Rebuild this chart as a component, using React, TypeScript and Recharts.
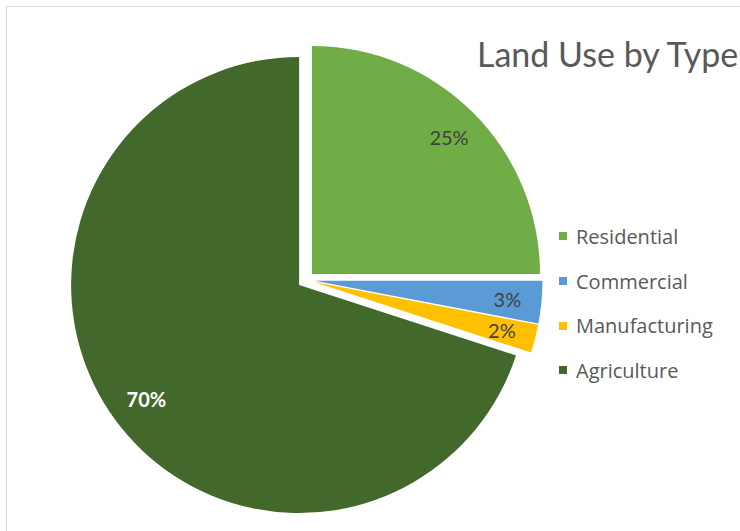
import { PieChart, Pie, Cell, Legend } from 'recharts'

const categories = ['Residential', 'Commercial', 'Manufacturing', 'Agriculture']
const shares = [25, 3, 2, 70]
const colors = ['#70AD47', '#5B9BD5', '#FFC000', '#43682B']
const labelColors = ['#404040', '#404040', '#404040', '#FFFFFF']
const labelWeights = [400, 400, 400, 700]

const data = categories.map((name, i) => ({ name, value: shares[i] }))

const FONT = 'Lato, "Open Sans", sans-serif'
const LEGEND_FONT = '"Open Sans", Lato, sans-serif'
const CX = 306
const CY = 280
const R = 228
const EXPLODE = 8.5
const RAD = Math.PI / 180

const total = shares.reduce((a, b) => a + b, 0)
// middle of each slice, clockwise degrees from 12 o'clock
const midAngles = shares.map((v, i) => {
  const before = shares.slice(0, i).reduce((a, b) => a + b, 0)
  return ((before + v / 2) / total) * 360
})

const renderLabel = (k: number) => (p: any) => {
  if (p.index !== k) return null
  const r = p.outerRadius * 0.85
  const x = p.cx + r * Math.cos(-p.midAngle * RAD)
  const y = p.cy + r * Math.sin(-p.midAngle * RAD)
  return (
    <text
      x={x + (k === 3 ? 4 : 0)}
      y={y}
      textAnchor="middle"
      dominantBaseline="central"
      fill={labelColors[k]}
      fontWeight={labelWeights[k]}
      fontSize={20}
      fontFamily={FONT}
    >
      {`${shares[k]}%`}
    </text>
  )
}

const renderLegend = () => (
  <div style={{ fontFamily: LEGEND_FONT, fontSize: 20, color: '#595959' }}>
    {categories.map((name, i) => (
      <div key={name} style={{ display: 'flex', alignItems: 'center', height: 44.7 }}>
        <span style={{ width: 8, height: 8, background: colors[i], marginRight: 9 }} />
        <span>{name}</span>
      </div>
    ))}
  </div>
)

export default function App() {
  return (
    <div
      style={{
        position: 'absolute',
        left: 0,
        top: 0,
        width: 740,
        height: 531,
        overflow: 'hidden',
        background: '#fff',
      }}
    >
      <div
        style={{
          position: 'absolute',
          left: 6,
          top: 6,
          width: 900,
          height: 700,
          border: '1px solid #d9d9d9',
        }}
      />
      <div
        style={{
          position: 'absolute',
          left: 477,
          top: 37,
          fontFamily: FONT,
          fontSize: 34,
          lineHeight: 1,
          color: '#595959',
          whiteSpace: 'nowrap',
        }}
      >
        Land Use by Type
      </div>
      <div style={{ position: 'absolute', left: 0, top: 0 }}>
        <PieChart width={740} height={531} margin={{ top: 0, right: 0, bottom: 0, left: 0 }}>
          {categories.map((name, k) => {
            const a = midAngles[k] * RAD
            return (
              <Pie
                key={name}
                data={data}
                dataKey="value"
                nameKey="name"
                cx={CX + EXPLODE * Math.sin(a)}
                cy={CY - EXPLODE * Math.cos(a)}
                outerRadius={R}
                startAngle={90}
                endAngle={-270}
                isAnimationActive={false}
                labelLine={false}
                label={renderLabel(k)}
                legendType="none"
              >
                {data.map((d, i) => (
                  <Cell key={d.name} fill={i === k ? colors[i] : 'none'} stroke="none" />
                ))}
              </Pie>
            )
          })}
          <Legend
            layout="vertical"
            align="right"
            verticalAlign="top"
            content={renderLegend}
            wrapperStyle={{ left: 559, top: 214, right: 'auto', bottom: 'auto', width: 180 }}
          />
        </PieChart>
      </div>
    </div>
  )
}
